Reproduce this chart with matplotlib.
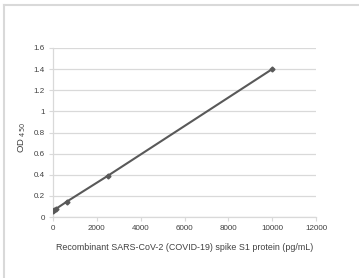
import matplotlib
matplotlib.use("Agg")
import matplotlib.pyplot as plt
from matplotlib.lines import Line2D

# spike S1 standard curve
conc = [0, 39, 156, 625, 2500, 10000]
od450 = [0.055, 0.065, 0.08, 0.145, 0.39, 1.40]

xticks = [0, 2000, 4000, 6000, 8000, 10000, 12000]
yticks = [0, 0.2, 0.4, 0.6, 0.8, 1, 1.2, 1.4, 1.6]
ytick_labels = ["0", "0.2", "0.4", "0.6", "0.8", "1", "1.2", "1.4", "1.6"]

plt.rcParams['font.family'] = ['Liberation Sans', 'DejaVu Sans']
txt = '#404040'
grid = '#d9d9d9'

fig = plt.figure(figsize=(3.59, 2.78), dpi=100)
ax = fig.add_axes([53/359, 1-217/278, 263/359, 169/278])

ax.plot(conc, od450, color='#595959', lw=1.5, marker='D', ms=2.5, zorder=3)

ax.set_xlim(0, 12000)
ax.set_ylim(0, 1.6)
ax.set_xticks(xticks)
ax.set_yticks(yticks)
ax.set_yticklabels(ytick_labels)
ax.yaxis.grid(True, color=grid, lw=0.9)
ax.set_axisbelow(True)
for s in ['top', 'right']:
    ax.spines[s].set_visible(False)
for s in ['left', 'bottom']:
    ax.spines[s].set_color(grid)
    ax.spines[s].set_linewidth(0.9)
ax.tick_params(axis='both', colors=grid, labelcolor=txt, labelsize=5.8, length=3, width=0.8, pad=3)

ax.set_xlabel("Recombinant SARS-CoV-2 (COVID-19) spike S1 protein (pg/mL)",
              fontsize=6.4, color=txt, labelpad=8)
fig.text(22/359, 1-137/278, r"OD $_{450}$", rotation=90, fontsize=6.8, color=txt,
         ha='center', va='center')

# light frame on the left and top edges
fig.add_artist(Line2D([3.5/359, 3.5/359], [0, 1-4.5/278], transform=fig.transFigure,
                      color=grid, lw=1.5))
fig.add_artist(Line2D([3.5/359, 1], [1-4.5/278, 1-4.5/278], transform=fig.transFigure,
                      color=grid, lw=1.5))

fig.savefig("out.png", dpi=100)
